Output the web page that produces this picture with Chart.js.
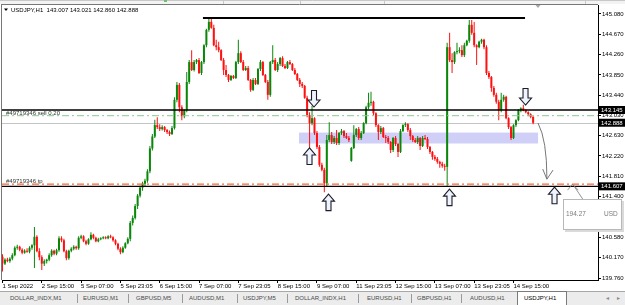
<!DOCTYPE html>
<html><head><meta charset="utf-8">
<script src="https://cdn.jsdelivr.net/npm/chart.js@4.4.1/dist/chart.umd.min.js"></script>
<style>
html,body{margin:0;padding:0;background:#fff;overflow:hidden}
#wrap{position:relative;width:625px;height:305px;overflow:hidden}
#c{position:absolute;left:0;top:0}
#tabs{position:absolute;left:0;top:291px;width:625px;height:14px;background:#ececec;border-top:1px solid #a8a8a8;font:6px "Liberation Sans",Arial,sans-serif;color:#4a4a4a}
#tabs span{position:absolute;top:3px;line-height:7px;white-space:nowrap}
#tabs i{position:absolute;top:2px;height:9px;width:0;border-left:1px solid #9a9a9a}
#tabs .act{position:absolute;top:-1px;height:15px;background:#fff;border:1px solid #7a7a7a;border-bottom:none;box-sizing:border-box}
#tabs .act span{color:#000;top:3px}
</style></head>
<body><div id="wrap"><canvas id="c" width="625" height="305"></canvas><div id="tabs"></div></div>
<script>
// ---------- data ----------
const symbol = 'USDJPY,H1';
const timeLabels = ['1 Sep 2022','2 Sep 15:00','5 Sep 07:00','5 Sep 23:05','6 Sep 15:00','7 Sep 07:00','7 Sep 23:05','8 Sep 15:00','9 Sep 07:00','11 Sep 23:05','12 Sep 15:00','13 Sep 07:00','13 Sep 23:05','14 Sep 15:00'];
const timeTickIndex = [0,16,32,48,64,80,96,112,128,144,160,176,192,208];
const priceTicks = [145.08,144.67,144.26,143.85,143.44,143.03,142.63,142.22,141.81,141.40,140.99,140.58,140.17,139.76];
const priceTickLabels = ['145.080','144.670','144.260','143.850','143.440','143.030','142.630','142.220','141.810','141.400','140.990','140.580','140.170','139.760'];

const opens = [140.19,140.05,140.13,140.10,140.15,140.22,140.37,140.39,140.33,140.27,140.31,140.29,140.37,140.42,140.59,140.30,140.18,140.05,140.10,140.13,
140.22,140.31,140.25,140.32,140.56,140.52,140.30,140.16,140.31,140.35,140.39,140.36,140.57,140.60,140.50,140.45,140.54,140.63,140.57,140.50,
140.54,140.56,140.58,140.56,140.60,140.58,140.52,140.45,140.35,140.28,140.37,140.46,140.55,140.87,140.97,141.21,141.42,141.58,141.66,141.72,
141.91,142.37,142.61,142.84,142.80,142.76,142.80,142.74,142.70,142.66,142.78,143.35,143.65,143.20,143.02,143.14,143.71,144.11,143.95,144.11,
144.15,143.89,144.11,144.45,144.76,144.92,144.80,144.45,144.41,144.35,144.15,143.95,143.85,143.75,143.83,143.79,144.11,144.29,144.11,143.95,
143.99,143.75,143.55,143.75,143.67,143.97,144.11,143.85,143.71,143.45,144.11,144.15,143.95,144.07,144.19,144.03,143.99,144.11,144.07,143.95,
143.87,143.75,143.67,143.63,143.39,143.04,142.88,142.98,142.68,142.40,142.04,141.94,141.67,142.54,142.64,142.50,142.58,142.48,142.68,142.72,
142.62,142.58,142.12,142.38,142.64,142.76,142.58,142.68,142.88,143.20,143.29,143.31,143.08,142.84,142.70,142.78,142.60,142.58,142.50,142.34,
142.58,142.46,142.30,142.72,142.84,142.86,142.74,142.62,142.54,142.50,142.58,142.42,142.58,142.56,142.40,142.30,142.20,142.16,142.10,142.06,
142.02,142.00,144.41,144.15,144.11,144.31,144.33,144.35,144.25,144.45,144.54,144.86,144.70,144.45,144.41,144.52,144.56,144.41,143.89,143.81,
143.59,143.45,143.31,143.14,143.35,143.41,142.98,142.80,142.58,142.84,142.94,143.14,143.18,143.14,143.10,143.06,143.007];
const highs = [140.24,140.16,140.17,140.18,140.26,140.40,140.43,140.41,140.36,140.34,140.36,140.40,140.44,140.79,140.62,140.36,140.22,140.14,140.15,140.26,
140.34,140.33,140.35,140.60,140.60,140.55,140.33,140.33,140.38,140.42,140.41,140.60,140.63,140.62,140.53,140.56,140.68,140.65,140.59,140.57,
140.58,140.60,140.60,140.62,140.63,140.60,140.54,140.47,140.38,140.40,140.48,140.58,140.91,141.02,141.25,141.45,141.62,141.70,141.76,141.95,
142.42,142.66,142.95,143.00,142.86,142.84,142.82,142.76,142.73,142.82,143.40,143.71,143.69,143.24,143.16,143.91,144.15,144.35,144.15,144.17,
144.19,144.13,144.47,144.78,145.00,145.00,144.86,144.56,144.52,144.37,144.19,144.05,143.87,143.85,143.85,144.13,144.56,144.33,144.15,144.03,
144.03,143.77,143.79,143.79,143.99,144.15,144.13,143.87,143.75,144.13,144.45,144.19,144.11,144.21,144.23,144.07,144.13,144.15,144.09,143.99,
143.89,143.79,143.71,143.65,143.43,143.10,143.23,143.00,142.72,142.44,142.08,141.98,142.64,142.90,142.70,142.62,142.74,142.70,142.76,142.74,
142.68,142.62,142.40,142.84,142.78,142.80,142.72,142.90,143.23,143.49,143.51,143.33,143.10,142.86,142.82,142.80,142.64,142.62,142.52,142.60,
142.62,142.48,142.76,142.86,142.90,142.88,142.78,142.64,142.58,142.62,142.60,142.62,142.64,142.60,142.42,142.32,142.24,142.20,142.12,142.10,
142.06,144.50,144.70,144.29,144.33,144.50,144.41,144.45,144.50,144.56,144.96,144.96,144.92,144.47,144.54,144.58,144.58,144.45,143.93,143.83,
143.63,143.49,143.35,143.49,143.45,143.43,143.00,142.82,142.86,142.96,143.16,143.20,143.25,143.16,143.12,143.08,143.021];
const lows = [139.89,140.02,140.08,140.07,140.12,140.20,140.33,140.30,140.24,140.25,140.27,140.26,140.33,139.96,140.28,140.12,139.92,140.00,140.05,140.10,
140.19,140.22,140.22,140.29,140.48,140.28,140.12,140.13,140.28,140.32,140.33,140.33,140.54,140.48,140.42,140.43,140.52,140.54,140.48,140.48,
140.52,140.54,140.54,140.54,140.56,140.49,140.42,140.32,140.24,140.26,140.35,140.44,140.50,140.82,140.94,141.15,141.38,141.52,141.60,141.68,
141.87,142.33,142.58,142.76,142.72,142.73,142.70,142.66,142.62,142.64,142.75,143.30,143.10,142.94,142.98,143.10,143.67,143.93,143.92,144.07,
143.87,143.85,144.07,144.41,144.72,144.78,144.43,144.35,144.31,144.13,143.85,143.81,143.71,143.73,143.77,143.77,144.07,144.09,143.93,143.93,
143.73,143.51,143.53,143.65,143.65,143.93,143.83,143.69,143.35,143.41,144.07,143.93,143.91,144.03,144.01,143.97,143.97,144.05,143.93,143.85,
143.73,143.61,143.59,143.37,143.00,142.28,142.84,142.64,142.36,142.00,141.91,141.49,141.60,142.50,142.46,142.46,142.44,142.44,142.64,142.58,
142.56,142.50,142.10,142.36,142.60,142.54,142.54,142.66,142.86,143.16,143.23,143.04,142.80,142.54,142.66,142.58,142.48,142.46,142.28,142.30,
142.42,142.20,142.28,142.70,142.80,142.70,142.54,142.50,142.48,142.46,142.34,142.40,142.54,142.36,142.26,142.14,142.12,142.06,141.98,141.98,
141.92,141.62,144.11,143.89,144.07,144.27,144.29,144.21,144.21,144.43,144.50,144.66,144.41,144.05,144.39,144.48,144.37,143.85,143.77,143.51,
143.41,143.27,142.94,143.10,143.31,142.96,142.76,142.54,142.56,142.80,142.92,143.10,143.12,143.08,143.02,142.98,142.860];
const closes = [140.05,140.13,140.10,140.15,140.22,140.37,140.39,140.33,140.27,140.31,140.29,140.37,140.42,140.59,140.30,140.18,140.05,140.10,140.13,140.22,
140.31,140.25,140.32,140.56,140.52,140.30,140.16,140.31,140.35,140.39,140.36,140.57,140.60,140.50,140.45,140.54,140.63,140.57,140.50,140.54,
140.56,140.58,140.56,140.60,140.58,140.52,140.45,140.35,140.28,140.37,140.46,140.55,140.87,140.97,141.21,141.42,141.58,141.66,141.72,141.91,
142.37,142.61,142.84,142.80,142.76,142.80,142.74,142.70,142.66,142.78,143.35,143.65,143.20,143.02,143.14,143.71,144.11,143.95,144.11,144.15,
143.89,144.11,144.45,144.76,144.92,144.80,144.45,144.41,144.35,144.15,143.95,143.85,143.75,143.83,143.79,144.11,144.29,144.11,143.95,143.99,
143.75,143.55,143.75,143.67,143.97,144.11,143.85,143.71,143.45,144.11,144.15,143.95,144.07,144.19,144.03,143.99,144.11,144.07,143.95,143.87,
143.75,143.67,143.63,143.39,143.04,142.88,142.98,142.68,142.40,142.04,141.94,141.67,142.54,142.64,142.50,142.58,142.48,142.68,142.72,142.62,
142.58,142.54,142.38,142.64,142.76,142.58,142.68,142.88,143.20,143.29,143.31,143.08,142.84,142.70,142.78,142.60,142.58,142.50,142.34,142.58,
142.46,142.30,142.72,142.84,142.86,142.74,142.62,142.54,142.50,142.58,142.42,142.58,142.56,142.40,142.30,142.20,142.16,142.10,142.06,142.02,
142.00,144.41,144.15,144.11,144.31,144.33,144.35,144.25,144.45,144.54,144.86,144.70,144.45,144.41,144.52,144.56,144.41,143.89,143.81,143.59,
143.45,143.31,143.14,143.35,143.41,142.98,142.80,142.58,142.84,142.94,143.14,143.18,143.14,143.10,143.06,143.007,142.888];

// chart objects (bar index / price)
const trendTop = {price:145.00, from:81.6, to:212.7};
const resistanceLevel = 143.145;
const supportLevel = 141.607;
const sellOrder = {label:'#49719346 sell 0.20', price:143.03};
const tpOrder = {label:'#49719346 tp', price:141.65};
const zone = {from:120.7, to:218.0, top:142.69, bottom:142.47};
const markers = [
  {i:126.8, p:143.205, dir:'down'},
  {i:124.97, p:142.38, dir:'up'},
  {i:132.7, p:141.45, dir:'up'},
  {i:181.95, p:141.55, dir:'up'},
  {i:224.7, p:141.59, dir:'up'},
  {i:212.9, p:143.245, dir:'down'}
];
const projection = [[218.0,142.88],[221.6,142.54],[221.6,141.77]];
const projectionHead = [[219.9,141.955],[221.6,141.75],[224.1,141.935]];
const profitLink = [[230.0,141.53],[232.0,141.65],[234.4,141.53]];
const profitLine = [[232.4,141.63],[238.9,141.15]];
const profit = {value:'194.27', currency:'USD'};
const tabNames = ['DOLLAR_INDX,M1','EURUSD,M1','GBPUSD,M5','AUDUSD,M1','USDJPY,M5','DOLLAR_INDX,H1','EURUSD,H1','GBPUSD,H1','AUDUSD,H1','USDJPY,H1'];
const activeTab = 'USDJPY,H1';

// ---------- tabs (layout) ----------
const tabX = [10,83,136,189,243,295,367,417,470,523];
const sepX = [77,128,182,237,287,358,411,461];
const tabsEl = document.getElementById('tabs');
tabNames.forEach((n,k)=>{
  if (n === activeTab) {
    const d = document.createElement('div'); d.className='act';
    d.style.left='517px'; d.style.width='50px';
    const s = document.createElement('span'); s.textContent=n; s.style.left=(tabX[k]-517)+'px';
    d.appendChild(s); tabsEl.appendChild(d);
  } else {
    const s = document.createElement('span'); s.textContent=n; s.style.left=tabX[k]+'px'; tabsEl.appendChild(s);
  }
});
sepX.forEach(x=>{const i=document.createElement('i'); i.style.left=x+'px'; tabsEl.appendChild(i);});
['◂','▸'].forEach((t,k)=>{const s=document.createElement('span'); s.textContent=t; s.style.left=(606+k*11)+'px'; s.style.color='#8a8a8a'; tabsEl.appendChild(s);});

// ---------- chart ----------
const FONT = "'Liberation Sans', Arial, sans-serif";
Chart.defaults.font.family = FONT;
Chart.defaults.font.size = 6;
const idx = closes.map((_,i)=>i);
const up = idx.map(i=>closes[i] >= opens[i]);
const GREEN = '#0a870a', RED = '#ff1010';

function blockArrow(ctx, cx, tipY, dir){
  const hw=6, sw=2.5, hh=7, L=16.5, s = dir==='up'?1:-1;
  ctx.beginPath();
  ctx.moveTo(cx, tipY);
  ctx.lineTo(cx+hw, tipY+s*hh);
  ctx.lineTo(cx+sw, tipY+s*hh);
  ctx.lineTo(cx+sw, tipY+s*L);
  ctx.lineTo(cx-sw, tipY+s*L);
  ctx.lineTo(cx-sw, tipY+s*hh);
  ctx.lineTo(cx-hw, tipY+s*hh);
  ctx.closePath();
  ctx.fillStyle='#eef3fc'; ctx.fill();
  ctx.strokeStyle='#1c1c2a'; ctx.lineWidth=1.1; ctx.stroke();
}

const overlay = {
  id:'mt4',
  beforeDatasetsDraw(chart){
    const {ctx, chartArea:a, scales:{x,y}} = chart;
    ctx.save();
    const x0=x.getPixelForValue(zone.from), x1=x.getPixelForValue(zone.to);
    const y0=y.getPixelForValue(zone.top), y1=y.getPixelForValue(zone.bottom);
    ctx.fillStyle='#cfcff7';
    ctx.fillRect(x0,y0,x1-x0,y1-y0);
    // bid line
    const yb = Math.round(y.getPixelForValue(closes[closes.length-1]))+0.5;
    ctx.strokeStyle='#c4c4c4'; ctx.lineWidth=1;
    ctx.beginPath(); ctx.moveTo(a.left,yb); ctx.lineTo(a.right,yb); ctx.stroke();
    ctx.restore();
  },
  afterDatasetsDraw(chart){
    const {ctx, chartArea:a, scales:{x,y}} = chart;
    const P = (i,p)=>[x.getPixelForValue(i), y.getPixelForValue(p)];
    ctx.save();
    function hline(price,color,w,dash,from,to){
      const yy = y.getPixelForValue(price);
      ctx.strokeStyle=color; ctx.lineWidth=w; ctx.setLineDash(dash||[]);
      ctx.beginPath();
      ctx.moveTo(from!==undefined?x.getPixelForValue(from):a.left, yy);
      ctx.lineTo(to!==undefined?x.getPixelForValue(to):a.right, yy);
      ctx.stroke(); ctx.setLineDash([]);
    }
    hline(sellOrder.price,'#8cc98c',1,[7,3,2,3]);
    hline(tpOrder.price,'#ff6633',1.3,[7,3,2,3]);
    hline(resistanceLevel,'#000',1.4);
    hline(supportLevel,'#000',1.4);
    hline(trendTop.price,'#000',2,null,trendTop.from,trendTop.to);
    // order labels
    ctx.fillStyle='#333'; ctx.font='6px '+FONT; ctx.textAlign='left'; ctx.textBaseline='alphabetic';
    ctx.fillText(sellOrder.label, a.left+4, y.getPixelForValue(sellOrder.price)-1);
    ctx.fillText(tpOrder.label, a.left+4, y.getPixelForValue(tpOrder.price)-1.5);
    // projection curve
    ctx.strokeStyle='#555'; ctx.lineWidth=0.8;
    const [p0,p1,p2] = projection.map(q=>P(q[0],q[1]));
    ctx.beginPath(); ctx.moveTo(p0[0],p0[1]); ctx.quadraticCurveTo(p1[0],p1[1],p2[0],p2[1]); ctx.stroke();
    ctx.beginPath(); projectionHead.map(q=>P(q[0],q[1])).forEach((q,k)=>k?ctx.lineTo(q[0],q[1]):ctx.moveTo(q[0],q[1])); ctx.stroke();
    // markers
    markers.forEach(m=>{const [cx,cy]=P(m.i,m.p); blockArrow(ctx,cx,cy,m.dir);});
    // title
    ctx.fillStyle='#000';
    ctx.beginPath(); ctx.moveTo(4,8.5); ctx.lineTo(8,8.5); ctx.lineTo(6,11); ctx.closePath(); ctx.fill();
    const n = closes.length-1;
    ctx.font='6px '+FONT; ctx.textBaseline='middle';
    ctx.fillText(symbol+'  '+opens[n].toFixed(3)+' '+highs[n].toFixed(3)+' '+lows[n].toFixed(3)+' '+closes[n].toFixed(3), 11, 10);
    ctx.restore();
  },
  afterDraw(chart){
    const {ctx, chartArea:a, scales:{x,y}} = chart;
    const P = (i,p)=>[x.getPixelForValue(i), y.getPixelForValue(p)];
    ctx.save();
    // top strip and frame
    ctx.fillStyle='#f3f3f3'; ctx.fillRect(0,0,625,4);
    ctx.strokeStyle='#c8c8c8'; ctx.lineWidth=1;
    ctx.beginPath(); ctx.moveTo(0,0.5); ctx.lineTo(625,0.5); ctx.stroke();
    [223,300,384,585].forEach(sx=>{ctx.beginPath(); ctx.moveTo(sx+0.5,0); ctx.lineTo(sx+0.5,4); ctx.stroke();});
    ctx.fillStyle='#6cbf6c'; ctx.fillRect(164,0,3,2);
    ctx.strokeStyle='#777';
    ctx.beginPath(); ctx.moveTo(1,4.5); ctx.lineTo(a.right,4.5); ctx.stroke();
    ctx.beginPath(); ctx.moveTo(1.5,4); ctx.lineTo(1.5,a.bottom); ctx.stroke();
    // shift marker
    ctx.fillStyle='#a8a8a8';
    ctx.beginPath(); ctx.moveTo(535.5,5); ctx.lineTo(540.5,5); ctx.lineTo(538,8); ctx.closePath(); ctx.fill();
    // price boxes on axis
    ctx.font='6px '+FONT; ctx.textAlign='left'; ctx.textBaseline='middle';
    [resistanceLevel, closes[closes.length-1], supportLevel].forEach(v=>{
      const yy = y.getPixelForValue(v);
      ctx.fillStyle='#000'; ctx.fillRect(a.right+1, yy-4, 26, 8);
      ctx.fillStyle='#fff'; ctx.fillText(v.toFixed(3), a.right+3, yy+0.3);
    });
    // profit link
    ctx.strokeStyle='#777'; ctx.lineWidth=0.8;
    ctx.beginPath(); profitLink.map(q=>P(q[0],q[1])).forEach((q,k)=>k?ctx.lineTo(q[0],q[1]):ctx.moveTo(q[0],q[1])); ctx.stroke();
    ctx.beginPath(); profitLine.map(q=>P(q[0],q[1])).forEach((q,k)=>k?ctx.lineTo(q[0],q[1]):ctx.moveTo(q[0],q[1])); ctx.stroke();
    // profit box
    const bx=a.right-35, by=199, bw=59, bh=31;
    ctx.fillStyle='#dadada'; ctx.fillRect(bx+2,by+2,bw,bh);
    ctx.fillStyle='#fff'; ctx.fillRect(bx,by,bw,bh);
    ctx.strokeStyle='#b8b8b8'; ctx.lineWidth=1; ctx.strokeRect(bx+0.5,by+0.5,bw-1,bh-1);
    ctx.fillStyle='#7a7a7a'; ctx.font='6.5px '+FONT;
    ctx.fillText(profit.value, bx+3, by+15.5);
    ctx.fillText(profit.currency, bx+41, by+15.5);
    ctx.restore();
  }
};

new Chart(document.getElementById('c'), {
  data:{
    datasets:[
      {type:'bar', label:'wick', data: idx.map(i=>({x:i, y:[lows[i], highs[i]]})),
       backgroundColor: idx.map(i=>up[i]?GREEN:RED), barThickness:1, grouped:false, inflateAmount:0, order:2},
      {type:'bar', label:'body', data: idx.map(i=>({x:i, y:[opens[i], closes[i]]})),
       backgroundColor: idx.map(i=>up[i]?GREEN:RED), barThickness:2, grouped:false, inflateAmount:0, minBarLength:1, order:1}
    ]
  },
  options:{
    responsive:false, animation:false, devicePixelRatio:1, events:[],
    layout:{padding:{left:2, top:5, right:0, bottom:15}},
    plugins:{legend:{display:false}, tooltip:{enabled:false}},
    scales:{
      x:{type:'linear', min:-0.2, max:242.4, offset:false,
         grid:{drawOnChartArea:false, drawTicks:true, tickLength:3, color:'#000', offset:false},
         border:{display:true, color:'#000', width:1},
         ticks:{align:'start', autoSkip:false, maxRotation:0, minRotation:0, padding:0, color:'#000', font:{size:6},
                callback:(v)=>timeLabels[timeTickIndex.indexOf(v)]},
         afterBuildTicks:s=>{s.ticks = timeTickIndex.map(v=>({value:v}));},
         afterFit:s=>{s.height=10;}},
      y:{type:'linear', position:'right', min:139.72, max:145.26,
         grid:{drawOnChartArea:false, drawTicks:true, tickLength:3, color:'#000', offset:false},
         border:{display:true, color:'#000', width:1},
         ticks:{padding:1, color:'#000', font:{size:6},
                callback:(v)=>priceTickLabels[priceTicks.indexOf(v)]},
         afterBuildTicks:s=>{s.ticks = priceTicks.slice().reverse().map(v=>({value:v}));},
         afterFit:s=>{s.width=27;}}
    }
  },
  plugins:[overlay]
});
</script></body></html>
